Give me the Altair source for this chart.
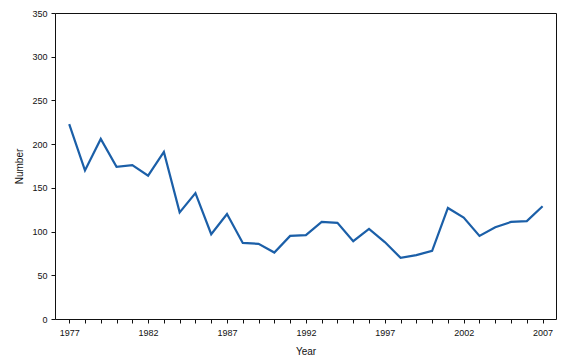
import altair as alt
import pandas as pd

years = list(range(1977, 2008))
numbers = [223, 170, 206, 174, 176, 164, 191, 122, 144, 97, 120, 87, 86, 76, 95,
           96, 111, 110, 89, 103, 88, 70, 73, 78, 127, 116, 95, 105, 111, 112, 129]
y_ticks = [0, 50, 100, 150, 200, 250, 300, 350]

df = pd.DataFrame({"Year": years, "Number": numbers})

font = "Liberation Sans"
ink = "#111"
xdom = [1976.1, 2007.85]
ydom = [0, 350]

line = alt.Chart(df).mark_line(color="#1b5fa8", strokeWidth=2.2).encode(
    x=alt.X("Year:Q",
            scale=alt.Scale(domain=xdom, nice=False, zero=False),
            axis=alt.Axis(values=years, format="d",
                          labelExpr="(datum.value - 1977) % 5 == 0 ? datum.label : ''",
                          grid=False, tickSize=4, labelPadding=5,
                          labelFontSize=9, titleFontSize=10, titleFontWeight="normal",
                          titlePadding=9, domainColor=ink, tickColor=ink,
                          labelColor=ink, titleColor=ink,
                          labelFont=font, titleFont=font)),
    y=alt.Y("Number:Q",
            scale=alt.Scale(domain=ydom, nice=False),
            axis=alt.Axis(values=y_ticks, grid=False, tickSize=4, labelPadding=4,
                          labelFontSize=9, titleFontSize=10, titleFontWeight="normal",
                          titlePadding=7, domainColor=ink, tickColor=ink,
                          labelColor=ink, titleColor=ink,
                          labelFont=font, titleFont=font)),
)

frame = alt.Chart(df).mark_line(opacity=0).encode(
    x=alt.X("Year:Q", scale=alt.Scale(domain=xdom, nice=False, zero=False),
            axis=alt.Axis(orient="top", ticks=False, labels=False, title=None,
                          grid=False, domainColor=ink)),
    y=alt.Y("Number:Q", scale=alt.Scale(domain=ydom, nice=False),
            axis=alt.Axis(orient="right", ticks=False, labels=False, title=None,
                          grid=False, domainColor=ink)),
)

chart = alt.layer(line, frame).resolve_scale(
    x="independent", y="independent"
).properties(
    width=501, height=306,
    padding={"left": 47, "top": 5, "right": 10, "bottom": 40},
    autosize=alt.AutoSizeParams(type="none"),
).configure_view(
    stroke=None
).configure(background="white")

chart.save("out.html", embed_options={"renderer": "svg", "actions": False})
